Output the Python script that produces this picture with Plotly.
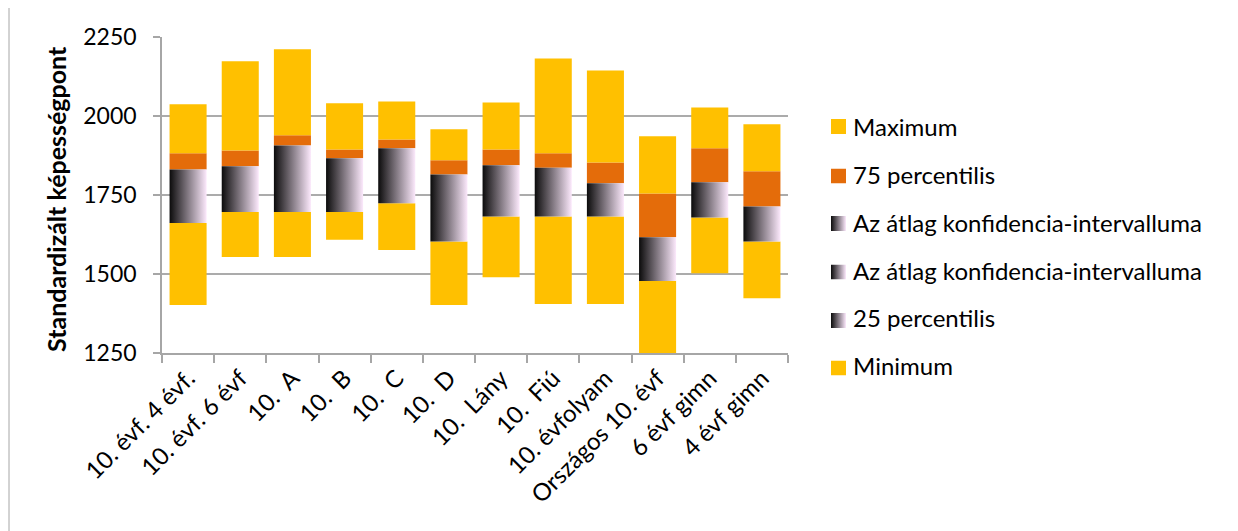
import base64
import plotly.graph_objects as go

categories = ["10. évf. 4 évf.", "10. évf. 6 évf", "10.\u00a0 A", "10.\u00a0 B", "10.\u00a0 C",
              "10.\u00a0 D", "10.\u00a0 Lány", "10.\u00a0 Fiú", "10. évfolyam",
              "Országos 10. évf", "6 évf gimn", "4 évf gimn"]
minimum = [1402, 1554, 1554, 1608, 1576, 1402, 1490, 1405, 1405, 1250, 1502, 1423]
p25 = [1661, 1696, 1696, 1696, 1724, 1603, 1682, 1682, 1682, 1478, 1679, 1603]
ci_high = [1831, 1841, 1907, 1866, 1898, 1815, 1844, 1836, 1787, 1616, 1790, 1714]
p75 = [1882, 1891, 1939, 1894, 1926, 1860, 1894, 1882, 1853, 1755, 1898, 1825]
maximum = [2037, 2173, 2211, 2040, 2046, 1958, 2043, 2182, 2144, 1936, 2027, 1974]

legend_names = ["Maximum", "75 percentilis", "Az átlag konfidencia-intervalluma",
                "Az átlag konfidencia-intervalluma", "25 percentilis", "Minimum"]

YELLOW = "#FFC000"
ORANGE = "#E46C0A"
C0, C1 = "#0b0b0b", "#fce9fc"
GRAD = [[0, C0], [1, C1]]
FONT = "Lato, 'Liberation Sans', sans-serif"
BW = 0.71
xs = list(range(len(categories)))

fig = go.Figure()

# gradient blocks (25 percentilis + confidence interval segments)
for i in xs:
    x0, x1 = i - BW / 2, i + BW / 2
    fig.add_trace(go.Scatter(
        x=[x0, x1, x1, x0, x0], y=[p25[i], p25[i], ci_high[i], ci_high[i], p25[i]],
        mode="lines", fill="toself", line=dict(width=0, color="rgba(0,0,0,0)"),
        fillgradient=dict(type="horizontal", colorscale=GRAD, start=x0, stop=x1),
        showlegend=False, hoverinfo="skip"))

fig.add_trace(go.Bar(x=xs, y=[b - a for a, b in zip(minimum, p25)], base=minimum,
                     width=BW, marker=dict(color=YELLOW, line=dict(width=0)),
                     name="Minimum", showlegend=False))
fig.add_trace(go.Bar(x=xs, y=[b - a for a, b in zip(ci_high, p75)], base=ci_high,
                     width=BW, marker=dict(color=ORANGE, line=dict(width=0)),
                     name="75 percentilis", showlegend=False))
fig.add_trace(go.Bar(x=xs, y=[b - a for a, b in zip(p75, maximum)], base=p75,
                     width=BW, marker=dict(color=YELLOW, line=dict(width=0)),
                     name="Maximum", showlegend=False))

# legend entries (icons drawn as images below)
for rank, name in enumerate(legend_names, start=1):
    fig.add_trace(go.Bar(x=[None], y=[None], name=name, legendrank=rank,
                         legendgroup=f"g{rank}",
                         marker=dict(color="rgba(0,0,0,0)", line=dict(width=0))))

# page offset of 8px (body margin) -> figure coordinates
OFF = 8
PL, PT, W, H = 162, 37, 626, 316      # plot area in page pixels
L, T = PL - OFF, PT - OFF


def px(xp):
    return (xp - PL) / W


def py(yp):
    return (PT + H - yp) / H


def icon_src(kind):
    if kind == "grad":
        fill = ('<defs><linearGradient id="g" x1="0" y1="0" x2="1" y2="0">'
                f'<stop offset="0" stop-color="{C0}"/><stop offset="1" stop-color="{C1}"/>'
                '</linearGradient></defs>')
        paint = "url(#g)"
    else:
        fill = ""
        paint = kind
    svg = ('<svg xmlns="http://www.w3.org/2000/svg" width="15" height="15">' + fill +
           f'<rect width="15" height="15" fill="{paint}"/></svg>')
    return "data:image/svg+xml;base64," + base64.b64encode(svg.encode()).decode()


icon_kinds = [YELLOW, ORANGE, "grad", "grad", "grad", YELLOW]
icon_rows = [126.5, 176, 223.5, 272, 320.5, 368]
images = [dict(source=icon_src(k), xref="paper", yref="paper", x=px(831), y=py(r - 7.5),
               sizex=15 / W, sizey=15 / H, xanchor="left", yanchor="top",
               sizing="stretch", layer="above") for k, r in zip(icon_kinds, icon_rows)]

fig.update_layout(
    width=1238 - OFF, height=531 - OFF,
    margin=dict(l=L, r=1238 - OFF - L - W, t=T, b=531 - OFF - T - H),
    paper_bgcolor="white", plot_bgcolor="white",
    barmode="overlay",
    font=dict(family=FONT, size=24, color="#000000"),
    showlegend=True,
    legend=dict(x=1.04, y=py(105), xanchor="left", yanchor="top",
                traceorder="grouped", tracegroupgap=13.5,
                font=dict(size=24, family=FONT), bgcolor="rgba(0,0,0,0)"),
    xaxis=dict(range=[-0.5, 11.5], tickvals=xs, ticktext=categories, tickangle=-45,
               showgrid=False, showline=True, linecolor="#A6A6A6", linewidth=1.5,
               ticks="outside", ticklen=0, tickcolor="#A6A6A6",
               minor=dict(tick0=-0.5, dtick=1, ticks="outside", ticklen=8,
                          tickcolor="#A6A6A6", tickwidth=1.5, showgrid=False),
               tickfont=dict(size=24, family=FONT), zeroline=False),
    yaxis=dict(range=[1250, 2250], tick0=1250, dtick=250, showgrid=True,
               gridcolor="#ABABAB", gridwidth=1.5, showline=True, linecolor="#A6A6A6",
               linewidth=1.5, ticks="outside", ticklen=7, tickcolor="#A6A6A6",
               tickwidth=1.5, ticklabelstandoff=12, zeroline=False,
               tickfont=dict(size=23, family=FONT)),
    annotations=[dict(text="<b>Standardizált képességpont</b>", textangle=-90,
                      xref="paper", yref="paper", x=px(56), y=py(199),
                      xanchor="center", yanchor="middle", showarrow=False,
                      font=dict(size=25, family=FONT))],
    images=images,
    shapes=[dict(type="line", xref="paper", yref="paper", x0=px(9), x1=px(9),
                 y0=-1, y1=py(7), line=dict(color="#A6A6A6", width=1)),
            dict(type="line", xref="paper", yref="paper", x0=px(9), x1=2.5,
                 y0=py(7), y1=py(7), line=dict(color="#A6A6A6", width=1))],
)

fig.write_html("out.html")
